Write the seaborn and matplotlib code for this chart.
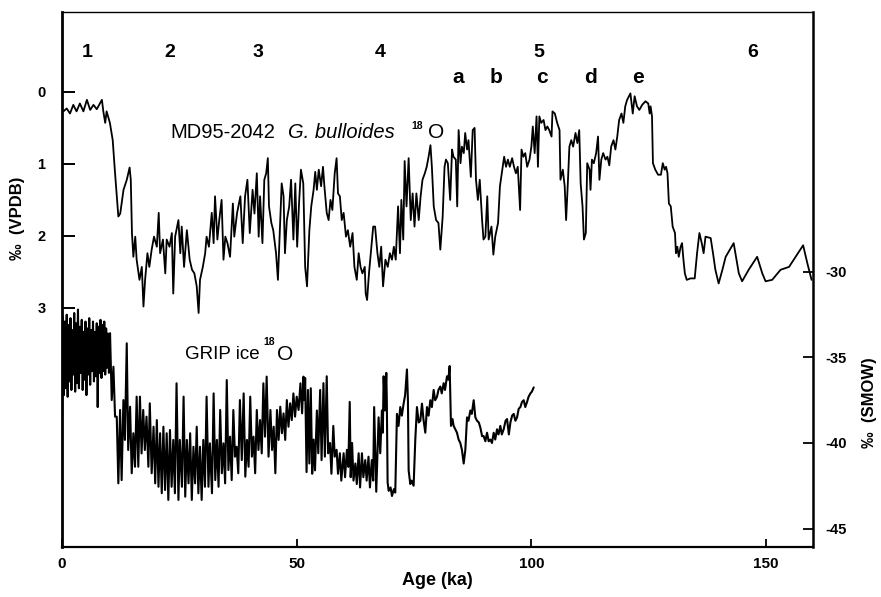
import matplotlib
matplotlib.use("Agg")
import matplotlib.pyplot as plt
import seaborn as sns

# MD95-2042 G. bulloides d18O (permil VPDB)
md_age = [0.3, 1.0, 1.7, 2.4, 3.1, 3.8, 4.55, 5.3, 6.0, 6.7, 7.4, 8.5, 8.8, 9.2, 9.5,
          10.2, 10.8, 11.3, 12.0, 12.4, 13.1, 13.8, 14.4, 14.65, 14.9, 15.2, 15.6, 15.9,
          16.5, 17.0, 17.35, 17.7, 18.2, 18.6, 19.1, 19.6, 20.2, 20.6, 20.9, 21.5, 22.0,
          22.3, 22.9, 23.4, 23.7, 24.1, 24.8, 25.2, 25.5, 26.0, 26.6, 27.2, 27.7, 28.2,
          28.7, 29.1, 29.4, 30.0, 30.5, 30.8, 31.3, 31.9, 32.3, 32.6, 33.1, 33.5, 34.0,
          34.4, 34.8, 35.25, 35.8, 36.4, 36.7, 37.3, 38.0, 38.5, 39.0, 39.5, 40.0, 40.6,
          41.0, 41.5, 41.9, 42.2, 42.7, 43.1, 43.5, 43.85, 44.1, 44.6, 45.0, 45.6, 46.0,
          46.5, 46.8, 47.2, 47.5, 47.9, 48.4, 48.8, 49.3, 49.7, 50.1, 50.5, 50.9, 51.4,
          51.8, 52.2, 52.7, 53.1, 53.6, 53.95, 54.3, 54.7, 55.2, 55.6, 55.9, 56.4, 56.8,
          57.2, 57.6, 58.1, 58.5, 58.8, 59.2, 59.6, 60.0, 60.5, 60.9, 61.4, 61.9, 62.3,
          62.8, 63.2, 63.6, 64.0, 64.5, 64.7, 65.0, 65.4, 65.9, 66.3, 66.7, 67.2, 67.6,
          68.0, 68.4, 68.9, 69.4, 69.85, 70.3, 70.7, 71.1, 71.6, 72.0, 72.3, 72.7, 73.0,
          73.4, 73.85, 74.3, 74.7, 75.1, 75.5, 76.0, 76.4, 76.8, 77.3, 77.7, 78.1, 78.5,
          78.8, 79.2, 79.7, 80.2, 80.6, 81.1, 81.5, 81.8, 82.2, 82.7, 83.1, 83.4, 83.9,
          84.2, 84.5, 84.9, 85.2, 85.6, 85.9, 86.3, 86.6, 87.1, 87.5, 87.9, 88.2, 88.6,
          89.0, 89.5, 89.8, 90.2, 90.6, 90.9, 91.5, 91.9, 92.3, 92.9, 93.3, 93.7, 94.2,
          94.6, 95.0, 95.4, 95.9, 96.3, 96.7, 97.1, 97.6, 97.9, 98.3, 98.7, 99.1, 99.6,
          100.0, 100.3, 100.7, 101.1, 101.4, 101.7, 102.1, 102.6, 103.0, 103.4, 103.8,
          104.3, 104.5, 105.0, 105.5, 106.0, 106.2, 106.7, 107.1, 107.4, 107.8, 108.1,
          108.5, 108.9, 109.4, 109.8, 110.2, 110.5, 110.9, 111.2, 111.6, 111.9, 112.4,
          112.6, 112.9, 113.3, 113.8, 114.2, 114.5, 114.9, 115.3, 115.8, 116.2, 116.6,
          117.0, 117.5, 117.9, 118.3, 118.7, 119.2, 119.6, 120.0, 120.4, 121.1, 121.6,
          122.0, 122.5, 123.0, 123.6, 124.3, 124.9, 125.2, 125.4, 125.7, 125.9, 126.4,
          127.0, 127.6, 128.0, 128.4, 128.7, 129.0, 129.3, 129.7, 130.1, 130.6, 130.8,
          131.1, 131.4, 131.8, 132.1, 132.4, 132.7, 133.1, 133.9, 134.8, 135.3, 135.8,
          136.3, 136.7, 137.1, 138.2, 138.7, 139.2, 139.9, 140.7, 141.4, 143.1, 144.2,
          144.9, 146.3, 148.1, 149.2, 149.9, 151.3, 153.1, 154.9, 156.3, 157.9, 158.8,
          159.7]
md_d18o = [0.27, 0.23, 0.30, 0.18, 0.27, 0.16, 0.27, 0.11, 0.25, 0.18, 0.24, 0.11, 0.27, 0.43, 0.27,
           0.43, 0.67, 1.13, 1.73, 1.69, 1.36, 1.22, 1.05, 1.22, 1.96, 2.29, 2.01, 2.33,
           2.61, 2.43, 2.98, 2.61, 2.24, 2.43, 2.19, 2.01, 2.15, 1.68, 2.24, 2.05, 2.52,
           2.05, 2.15, 1.96, 2.80, 2.01, 1.78, 2.24, 1.87, 2.43, 1.92, 2.33, 2.47, 2.52,
           2.70, 3.07, 2.61, 2.43, 2.24, 2.01, 2.15, 1.68, 2.10, 1.45, 2.05, 1.78, 1.50,
           2.33, 2.01, 2.10, 2.29, 1.55, 2.01, 1.68, 1.45, 2.10, 1.45, 1.22, 1.96, 1.36,
           1.69, 1.13, 2.01, 1.45, 2.10, 1.22, 1.13, 0.92, 1.59, 1.82, 1.92, 2.24, 2.61,
           1.78, 1.27, 1.45, 2.24, 1.78, 1.59, 1.22, 2.05, 1.27, 2.15, 1.55, 1.08, 1.27,
           2.43, 2.70, 1.92, 1.59, 1.36, 1.11, 1.36, 1.08, 1.31, 1.04, 1.31, 1.68, 1.78,
           1.50, 1.64, 1.13, 0.92, 1.41, 1.45, 1.78, 1.68, 2.01, 1.92, 2.15, 1.96, 2.43,
           2.61, 2.24, 2.43, 2.52, 2.43, 2.80, 2.89, 2.52, 2.15, 1.87, 1.87, 2.24, 2.43,
           2.15, 2.70, 2.33, 2.43, 2.24, 2.33, 2.15, 2.33, 1.59, 2.24, 1.50, 2.05, 0.96,
           1.59, 0.92, 1.78, 1.41, 1.87, 1.41, 1.78, 1.45, 1.22, 1.13, 1.04, 0.90, 0.74,
           1.04, 1.59, 1.78, 1.82, 2.19, 1.73, 1.04, 0.94, 0.99, 1.50, 0.80, 0.90, 0.94,
           1.59, 0.53, 0.99, 0.76, 0.85, 0.57, 0.80, 0.67, 1.18, 0.53, 0.50, 1.22, 1.50,
           1.22, 1.78, 2.05, 2.01, 1.45, 2.05, 1.87, 2.26, 2.01, 1.82, 1.31, 1.13, 0.90,
           1.04, 0.94, 1.04, 0.92, 1.04, 1.13, 1.04, 1.64, 0.80, 0.90, 0.85, 1.04, 0.94,
           0.76, 0.48, 0.85, 0.34, 1.04, 0.34, 0.43, 0.39, 0.53, 0.48, 0.53,
           0.62, 0.27, 0.30, 0.43, 0.53, 1.22, 1.08, 1.31, 1.78, 1.22, 0.76,
           0.67, 0.76, 0.57, 0.71, 0.53, 1.27, 1.59, 2.05, 1.96, 0.99, 1.08,
           1.36, 0.94, 0.99, 0.85, 0.62, 1.22, 0.94, 0.85, 0.94, 0.90, 1.02,
           0.76, 0.67, 0.80, 0.62, 0.39, 0.30, 0.43, 0.20, 0.11, 0.02, 0.30,
           0.06, 0.20, 0.25, 0.18, 0.13, 0.16, 0.30, 0.20, 0.34, 0.99, 1.08,
           1.15, 1.15, 0.99, 1.08, 1.04, 1.13, 1.55, 1.59, 1.87, 1.96, 2.24,
           2.15, 2.29, 2.15, 2.10, 2.33, 2.52, 2.61, 2.59, 2.59, 2.24, 1.96,
           2.10, 2.24, 2.01, 2.03, 2.24, 2.47, 2.66, 2.47, 2.29, 2.10, 2.52,
           2.63, 2.47, 2.29, 2.52, 2.63, 2.61, 2.47, 2.43, 2.29, 2.13, 2.38,
           2.61]

# GRIP ice d18O (permil SMOW)
grip_age = [0.0, 0.2, 0.4, 0.6, 0.8, 1.0, 1.2, 1.4, 1.6, 1.8, 2.0, 2.2, 2.4, 2.6, 2.8, 3.0,
            3.2, 3.4, 3.6, 3.8, 4.0, 4.2, 4.4, 4.6, 4.8, 5.0, 5.2, 5.4, 5.6, 5.8, 6.0, 6.2,
            6.4, 6.6, 6.8, 7.0, 7.2, 7.4, 7.6, 7.8, 8.0, 8.2, 8.4, 8.6, 8.8, 9.0, 9.2, 9.4,
            9.6, 9.8, 10.0,
            10.23, 10.59, 10.95, 11.3, 11.66, 12.0, 12.37, 12.7, 13.08, 13.4, 13.79, 14.1,
            14.5, 14.85, 15.2, 15.55, 15.9, 16.25, 16.6, 16.95, 17.3, 17.65, 18.0, 18.4,
            18.7, 19.1, 19.5, 19.85, 20.2, 20.55, 20.9, 21.25, 21.6, 21.95, 22.3, 22.65,
            23.0, 23.35, 23.7, 24.05, 24.4, 24.8, 25.1, 25.55, 25.9, 26.25, 26.6, 26.95,
            27.3, 27.65, 28.0, 28.35, 28.7, 29.05, 29.4, 29.75, 30.1, 30.45, 30.8, 31.2,
            31.5, 31.95, 32.3, 32.65, 33.0, 33.35, 33.7, 34.05, 34.4, 34.75, 35.1, 35.45,
            35.8, 36.15, 36.5, 36.85, 37.2, 37.55, 37.9, 38.3, 38.7, 39.05, 39.4, 39.75,
            40.1, 40.45, 40.8, 41.15, 41.5, 41.85, 42.2, 42.55, 42.9, 43.25, 43.6, 44.0,
            44.4, 44.75, 45.1, 45.45, 45.8, 46.15, 46.5, 46.85, 47.2, 47.55, 47.9, 48.25,
            48.6, 48.95, 49.3, 49.65, 50.0, 50.4, 50.8, 51.15, 51.45, 51.65,
            51.8, 52.1, 52.4, 52.7, 53.0, 53.3, 53.6, 53.9, 54.3, 54.6, 55.0, 55.3, 55.7,
            56.0, 56.4, 56.7, 57.1, 57.4, 57.8, 58.1, 58.5, 58.8, 59.2, 59.5, 60.0, 60.3,
            60.7, 61.0, 61.3, 61.5, 61.8, 62.1, 62.5, 62.8, 63.2, 63.5, 63.9, 64.2, 64.6,
            64.9, 65.3, 65.6, 66.0, 66.3, 66.5, 66.95, 67.45, 67.8, 68.16, 68.35, 68.52,
            68.8, 69.09, 69.2, 69.37, 69.6, 70.0, 70.3, 70.7, 71.0, 71.36, 71.7, 72.07,
            72.4, 72.78, 73.1, 73.49, 73.7, 73.85, 74.2, 74.5, 74.91, 75.27, 75.62, 76.0,
            76.34, 76.69, 77.0, 77.4, 77.76, 78.1, 78.47, 78.8, 79.18, 79.5, 79.89, 80.2,
            80.6, 80.9, 81.31, 81.6, 82.02, 82.3, 82.59, 82.87, 83.2, 83.44, 83.8, 84.15,
            84.5, 84.86, 85.2, 85.58, 85.93, 86.29, 86.6, 87.0, 87.3, 87.71, 88.06, 88.42,
            88.8, 89.13, 89.5, 89.84, 90.2, 90.55, 90.9, 91.26, 91.6, 91.97, 92.3, 92.68,
            93.0, 93.39, 93.7, 94.1, 94.5, 94.82, 95.2, 95.53, 95.9, 96.24, 96.6, 96.95,
            97.3, 97.66, 98.0, 98.37, 98.7, 99.08, 99.4, 99.79, 100.1, 100.5]
grip_d18o = [-38.5, -32.6, -37.2, -32.9, -36.8, -32.5, -37.3, -33.1, -36.4, -32.7, -36.9, -33.4,
             -36.0, -32.4, -37.0, -33.0, -36.5, -32.2, -36.8, -33.2, -35.9, -32.8, -36.9, -33.5,
             -36.3, -32.9, -37.2, -33.3, -36.0, -32.7, -36.6, -33.4, -35.8, -32.9, -36.4, -33.5,
             -36.1, -33.0, -37.9, -33.2, -35.9, -32.8, -36.2, -33.1, -35.8, -32.9, -36.0, -33.3,
             -35.6, -33.6, -35.9,
             -33.58, -37.49, -35.54, -38.46, -38.46, -42.36, -38.07, -42.17, -37.49, -39.82,
             -34.17, -40.41, -37.88, -41.77, -39.43, -41.39, -37.29, -41.39, -37.29, -40.61,
             -38.07, -40.41, -38.46, -41.39, -37.68, -41.77, -39.05, -42.36, -38.66, -42.56,
             -39.43, -42.94, -39.05, -42.75, -39.43, -43.33, -39.24, -42.56, -39.82, -42.94,
             -36.51, -43.33, -39.82, -42.56, -37.29, -43.14, -39.82, -42.36, -39.43, -43.33,
             -40.22, -42.36, -39.05, -42.94, -40.22, -43.33, -39.82, -42.56, -37.29, -42.56,
             -40.02, -42.94, -37.10, -42.17, -39.82, -42.56, -38.07, -41.77, -40.02, -42.36,
             -36.32, -41.58, -39.63, -42.17, -38.07, -40.80, -40.22, -41.77, -37.49, -41.00,
             -37.10, -41.97, -39.82, -41.39, -37.29, -40.80, -39.63, -41.77, -38.07, -40.41,
             -38.66, -40.61, -36.51, -39.63, -36.12, -40.80, -38.07, -40.41, -39.05, -41.77,
             -38.07, -39.82, -37.88, -39.43, -38.27, -39.82, -37.49, -39.05, -37.68, -38.66,
             -37.10, -38.46, -37.29, -38.07, -36.51, -38.27, -36.12, -37.49,
             -36.2, -41.7, -36.9, -41.2, -36.8, -41.8, -39.8, -41.6, -38.1, -40.6, -36.9, -41.0,
             -36.5, -40.8, -36.1, -40.6, -40.0, -41.8, -39.0, -40.8, -40.4, -41.8, -40.6, -42.2,
             -40.6, -42.0, -40.4, -41.4, -37.6, -42.0, -40.0, -42.2, -41.2, -42.4, -40.6, -42.6,
             -40.6, -42.0, -41.0, -42.2, -40.8, -42.6, -41.0, -42.2, -37.9, -42.85, -38.5, -40.6,
             -38.1, -39.4, -36.1, -38.1, -35.9, -37.5, -42.3, -42.8, -42.6, -43.1, -42.7, -42.9,
             -38.3, -39.0, -37.9, -38.4, -37.7, -37.2, -35.7, -37.5, -41.6, -42.4, -42.2, -42.5,
             -39.8, -37.9, -38.8, -38.7, -37.7, -38.6, -39.4, -37.9, -38.4, -37.5, -37.9, -36.9,
             -37.5, -37.3, -36.9, -36.7, -37.1, -36.5, -36.9, -36.1, -36.3, -35.5, -39.0, -38.6,
             -39.0, -39.2, -39.4, -39.8, -40.0, -40.4, -41.2, -40.4, -38.5, -38.7, -38.1, -38.3,
             -37.5, -38.5, -38.7, -38.8, -39.1, -39.6, -39.6, -39.9, -39.4, -39.9, -39.8, -40.0,
             -39.4, -39.8, -39.2, -39.5, -39.0, -39.5, -39.2, -38.7, -38.6, -39.5, -38.8, -38.4,
             -38.3, -38.7, -38.5, -38.0, -37.9, -37.6, -37.5, -37.9, -37.6, -37.3, -37.1, -37.0,
             -36.75]

stage_nums = ["1", "2", "3", "4", "5", "6"]
stage_num_age = [5.3, 23.0, 41.8, 67.8, 101.5, 147.1]
substages = ["a", "b", "c", "d", "e"]
substage_age = [84.4, 92.5, 102.3, 112.6, 122.8]

sns.set_theme(style="white")
plt.rcParams['font.family'] = ['Liberation Sans', 'DejaVu Sans']
plt.rcParams['text.color'] = 'black'
plt.rcParams['axes.labelcolor'] = 'black'
plt.rcParams['xtick.color'] = 'black'
plt.rcParams['ytick.color'] = 'black'
plt.rcParams['axes.unicode_minus'] = False

fig = plt.figure(figsize=(8.81, 5.97), dpi=100)
ax = fig.add_axes([0.0704, 0.0838, 0.8524, 0.8961])

sns.lineplot(x=md_age, y=md_d18o, ax=ax, color="black", linewidth=1.3,
             sort=False, estimator=None)
ax.set_xlim(0, 160)
ax.set_ylim(6.32, -1.11)

ax2 = ax.twinx()
sns.lineplot(x=grip_age, y=grip_d18o, ax=ax2, color="black", linewidth=1.5,
             sort=False, estimator=None)
ax2.set_ylim(-46.08, -14.8)
ax2.set_xlim(0, 160)

ax.set_yticks([0, 1, 2, 3])
ax.set_xticks([0, 50, 100, 150])
ax2.set_yticks([-30, -35, -40, -45])
ax.tick_params(axis="y", direction="in", length=9.5, width=1.4, labelsize=10.5, pad=12,
               left=True)
ax.tick_params(axis="x", direction="in", length=6, width=1.3, labelsize=11, pad=7,
               bottom=True)
ax2.tick_params(axis="y", direction="in", length=7, width=1.3, labelsize=10.5, pad=9,
                right=True)
for lab in ax.get_xticklabels() + ax.get_yticklabels() + ax2.get_yticklabels():
    lab.set_fontweight("bold")

ax.set_xlabel("Age (ka)", fontsize=13, fontweight="bold", labelpad=1)
ax.set_ylabel("")
ax2.set_ylabel("")

for a in (ax, ax2):
    a.grid(False)
    for s in a.spines.values():
        s.set_color("black")
ax.spines["left"].set_linewidth(2.0)
ax.spines["bottom"].set_linewidth(1.6)
ax.spines["top"].set_linewidth(1.0)
ax.spines["right"].set_visible(False)
ax2.spines["left"].set_visible(False)
ax2.spines["top"].set_visible(False)
ax2.spines["bottom"].set_visible(False)
ax2.spines["right"].set_linewidth(1.8)

for lab, x in zip(stage_nums, stage_num_age):
    ax.text(x, -0.55, lab, ha="center", va="center", fontsize=14, fontweight="bold")
for lab, x in zip(substages, substage_age):
    ax.text(x, -0.2, lab, ha="center", va="center", fontsize=15, fontweight="bold")

ax.text(23.0, 0.57, "MD95-2042", ha="left", va="center", fontsize=14.5)
ax.text(48.2, 0.57, "G. bulloides", ha="left", va="center", fontsize=14.5, style="italic")
ax.text(74.4, 0.47, "18", ha="left", va="center", fontsize=7.5, fontweight="bold")
ax.text(77.9, 0.57, "O", ha="left", va="center", fontsize=15)

ax2.text(26.2, -34.85, "GRIP ice", ha="left", va="center", fontsize=13.5)
ax2.text(42.9, -34.1, "18", ha="left", va="center", fontsize=7.5, fontweight="bold")
ax2.text(45.7, -34.85, "O", ha="left", va="center", fontsize=15)

fig.text(0.0204, 0.635, "‰  (VPDB)", rotation=90, ha="center", va="center",
         fontsize=12, fontweight="bold")
fig.text(0.9875, 0.325, "‰  (SMOW)", rotation=90, ha="center", va="center",
         fontsize=12, fontweight="bold")

fig.savefig("out.png", dpi=100)
